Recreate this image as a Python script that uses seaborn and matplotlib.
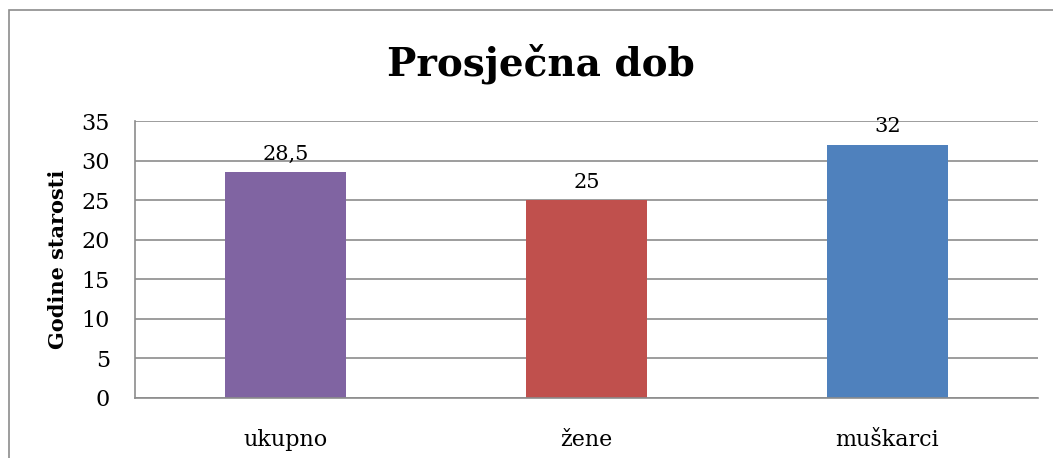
import matplotlib
matplotlib.use("Agg")
import matplotlib.pyplot as plt
import seaborn as sns
import pandas as pd

# podaci
kategorije = ["ukupno", "žene", "muškarci"]
dob = [28.5, 25, 32]
boje = ["#8064A2", "#C0504D", "#4F81BD"]
oznake = ["28,5", "25", "32"]

df = pd.DataFrame({"kategorija": kategorije, "dob": dob})

sns.set_style("white")
plt.rcParams["font.family"] = ["DejaVu Serif"]
plt.rcParams["text.color"] = "black"
plt.rcParams["xtick.color"] = "black"
plt.rcParams["ytick.color"] = "black"
plt.rcParams["axes.labelcolor"] = "black"

fig = plt.figure(figsize=(10.53, 4.58), dpi=100)
ax = fig.add_axes([135 / 1053, 1 - 398 / 458, 903 / 1053, 277 / 458])

sns.barplot(data=df, x="kategorija", y="dob", hue="kategorija", palette=boje,
            width=0.4, legend=False, ax=ax, saturation=1, linewidth=0)

for cont, lab in zip(ax.containers, oznake):
    ax.bar_label(cont, labels=[lab], padding=6, fontsize=15)

ax.set_ylim(0, 35)
ax.set_yticks(range(0, 36, 5))
ax.yaxis.grid(True, color="#8c8c8c", linewidth=1.2)
ax.set_axisbelow(True)
ax.tick_params(axis="both", length=0, labelsize=16)
ax.tick_params(axis="y", pad=18)
ax.tick_params(axis="x", pad=22)
ax.set_xlabel("")
ax.set_ylabel("Godine starosti", fontsize=15, fontweight="bold", labelpad=10)
for s in ["top", "right"]:
    ax.spines[s].set_visible(False)
for s in ["left", "bottom"]:
    ax.spines[s].set_color("#8c8c8c")
    ax.spines[s].set_linewidth(1.2)

fig.text(0.5 + 14 / 1053, 1 - 64 / 458, "Prosječna dob", ha="center", va="center",
         fontsize=28, fontweight="bold")

# okvir grafikona
okvir = plt.Rectangle((9 / 1053, -0.1), 1.2, 1 - 10 / 458 + 0.1,
                      transform=fig.transFigure, fill=False,
                      edgecolor="#8c8c8c", linewidth=1.2)
fig.patches.append(okvir)

fig.savefig("out.png", dpi=100)
